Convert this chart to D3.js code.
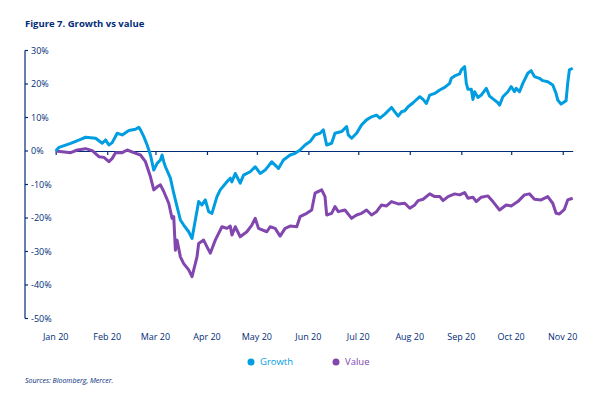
<!DOCTYPE html>
<html>
<head>
<meta charset="utf-8">
<script src="https://cdn.jsdelivr.net/npm/d3@7"></script>
<style>
  body { margin: 0; background: #fff; }
  svg { display: block; font-family: "Open Sans", "Noto Sans", sans-serif; }
</style>
</head>
<body>
<svg id="chart" width="606" height="398"></svg>
<script>
// days since 1 Jan 2020, and cumulative return (%)
const growthDays = [0, 2, 9, 15, 18, 24, 28, 30, 32, 34, 37, 40, 44, 48, 50, 51, 53, 55, 57, 59, 61, 63, 64, 65, 66, 69, 71, 73, 75, 77, 80, 82, 84, 86, 88, 90, 92, 94, 97, 99, 103, 105, 106, 108, 111, 113, 117, 120, 123, 126, 130, 134, 137, 141, 144, 147, 150, 153, 156, 159, 161, 163, 166, 168, 172, 175, 176, 178, 181, 184, 187, 190, 193, 195, 198, 202, 204, 206, 208, 210, 212, 215, 219, 221, 223, 225, 228, 231, 234, 237, 238, 240, 243, 244, 246, 247, 248, 250, 251, 252, 254, 256, 259, 261, 264, 266, 267, 269, 272, 274, 276, 277, 279, 281, 284, 286, 288, 291, 293, 296, 299, 301, 302, 304, 307, 308, 309, 311];
const growthPct = [0, 1.1, 2.3, 3.5, 4.1, 3.8, 2.3, 3.3, 1.8, 2.5, 5.3, 4.8, 6.1, 6.5, 7.1, 6.3, 4.3, 1.8, -1.2, -5.7, -3.7, -2.7, -1.2, -3.2, -4.7, -8.1, -12.6, -16.6, -20.6, -22.1, -24.1, -26.1, -20.6, -15.1, -16.1, -14.6, -18.1, -18.6, -13.6, -11.6, -9.2, -8.1, -9.2, -6.7, -9.6, -7.2, -6.2, -4.7, -6.7, -5.7, -3.2, -5.2, -2.7, -1.2, -0.7, 0.3, 1.8, 2.8, 4.8, 5.3, 6.3, 1.8, 2.3, 5.3, 5.8, 7.3, 4.8, 3.8, 5.3, 7.8, 9.3, 10.2, 10.7, 9.8, 11.0, 13.0, 11.7, 10.4, 11.7, 12.0, 13.2, 14.4, 16.2, 15.4, 14.2, 16.7, 17.2, 18.2, 19.0, 20.2, 21.7, 22.4, 23.0, 24.2, 25.2, 20.2, 18.4, 18.4, 15.4, 17.7, 16.0, 16.7, 18.7, 16.4, 15.2, 14.4, 13.7, 16.2, 17.7, 19.2, 17.7, 18.7, 17.7, 20.2, 23.2, 24.0, 22.2, 21.7, 21.0, 20.7, 19.7, 17.2, 15.2, 14.0, 15.0, 20.2, 24.2, 24.7];

const valueDays = [0, 9, 13, 18, 22, 26, 29, 32, 34, 36, 40, 43, 47, 51, 54, 57, 59, 61, 63, 65, 68, 70, 71, 72, 73, 75, 77, 80, 82, 85, 86, 89, 91, 93, 96, 100, 103, 105, 106, 108, 111, 115, 118, 120, 122, 127, 129, 132, 135, 138, 141, 145, 147, 151, 154, 156, 160, 162, 163, 166, 168, 170, 174, 178, 181, 184, 187, 190, 193, 196, 199, 202, 206, 210, 213, 216, 218, 221, 225, 228, 231, 233, 236, 240, 243, 246, 248, 251, 253, 256, 260, 263, 267, 271, 274, 278, 282, 285, 288, 292, 296, 299, 301, 303, 306, 308, 311];
const valuePct = [0, -0.5, 0.3, 0.7, 0.1, -1.7, -1.9, -3.2, -2.2, -0.5, -0.5, 0.3, -0.5, -1.2, -3.2, -7.7, -11.6, -10.7, -10.1, -12.1, -15.6, -20.1, -19.6, -29.6, -26.6, -31.6, -33.6, -35.5, -37.5, -31.6, -27.6, -26.6, -28.6, -30.5, -26.6, -22.6, -23.1, -22.4, -25.1, -22.6, -25.6, -24.1, -22.1, -20.1, -23.1, -24.1, -22.6, -23.1, -25.4, -23.1, -22.4, -22.6, -19.6, -18.6, -17.6, -12.6, -11.6, -13.6, -19.1, -18.6, -16.6, -18.1, -17.6, -20.1, -19.1, -18.6, -17.6, -19.1, -18.1, -16.1, -16.4, -15.1, -15.8, -15.6, -17.1, -16.1, -14.8, -14.4, -12.8, -13.6, -13.6, -14.8, -13.6, -12.8, -13.1, -12.4, -14.1, -13.8, -15.1, -13.8, -13.4, -15.1, -17.6, -16.1, -16.4, -15.1, -13.1, -12.8, -14.4, -14.6, -13.6, -15.6, -18.6, -18.8, -17.4, -14.6, -14.1];

const monthLabels = ["Jan 20", "Feb 20", "Mar 20", "Apr 20", "May 20", "Jun 20", "Jul 20", "Aug 20", "Sep 20", "Oct 20", "Nov 20"];
const yTicks = [30, 20, 10, 0, -10, -20, -30, -40, -50];

const navy = "#002c77";
const growthColor = "#009de0";
const valueColor = "#8246af";

const start = new Date(2020, 0, 1);
const toDate = d => d3.timeDay.offset(start, d);

const growth = growthDays.map((d, i) => ({ date: toDate(d), v: growthPct[i] }));
const value = valueDays.map((d, i) => ({ date: toDate(d), v: valuePct[i] }));

const svg = d3.select("#chart");

const x = d3.scaleTime()
    .domain([start, toDate(311)])
    .range([55.7, 572.7]);

const y = d3.scaleLinear()
    .domain([-50, 30])
    .range([318.5, 50.5]);

svg.append("text")
    .attr("x", 25)
    .attr("y", 27)
    .attr("fill", navy)
    .style("font-size", "9.5px")
    .style("font-weight", 700)
    .text("Figure 7. Growth vs value");

// y axis
const yAxis = svg.append("g").attr("transform", "translate(25,0)");
yAxis.append("line")
    .attr("y1", y(30)).attr("y2", y(-50))
    .attr("stroke", navy).attr("stroke-width", 1.2);
yAxis.selectAll(".ytick")
    .data(yTicks)
    .join("g")
    .attr("class", "ytick")
    .each(function (d) {
        const g = d3.select(this);
        g.append("line")
            .attr("x1", 0).attr("x2", 3)
            .attr("y1", y(d)).attr("y2", y(d))
            .attr("stroke", navy).attr("stroke-width", 1.2);
        g.append("text")
            .attr("x", 6)
            .attr("y", y(d))
            .attr("dy", "0.35em")
            .attr("fill", navy)
            .style("font-size", "9px")
            .text(`${d}%`);
    });

// zero line with month ticks
const months = d3.timeMonth.range(start, toDate(312));
const xAxis = svg.append("g").attr("transform", `translate(0,${y(0)})`)
    .call(d3.axisBottom(x).tickValues(months).tickSize(4).tickSizeOuter(0).tickFormat(""));
xAxis.select(".domain").attr("stroke", navy).attr("stroke-width", 1.2);
xAxis.selectAll(".tick line").attr("stroke", navy).attr("stroke-width", 1.2);

svg.selectAll(".xlabel")
    .data(months)
    .join("text")
    .attr("class", "xlabel")
    .attr("x", d => x(d))
    .attr("y", 340)
    .attr("text-anchor", "middle")
    .attr("fill", navy)
    .style("font-size", "9px")
    .text((d, i) => monthLabels[i]);

const line = d3.line()
    .x(d => x(d.date))
    .y(d => y(d.v))
    .curve(d3.curveLinear);

svg.append("path")
    .datum(value)
    .attr("d", line)
    .attr("fill", "none")
    .attr("stroke", valueColor)
    .attr("stroke-width", 3)
    .attr("stroke-linejoin", "round");

svg.append("path")
    .datum(growth)
    .attr("d", line)
    .attr("fill", "none")
    .attr("stroke", growthColor)
    .attr("stroke-width", 3)
    .attr("stroke-linejoin", "round");

// legend
const legend = [
    { label: "Growth", color: growthColor, x: 251 },
    { label: "Value", color: valueColor, x: 336 }
];
const lg = svg.selectAll(".legend")
    .data(legend)
    .join("g")
    .attr("class", "legend")
    .attr("transform", d => `translate(${d.x},362)`);
lg.append("circle").attr("r", 3.5).attr("fill", d => d.color);
lg.append("text")
    .attr("x", 9)
    .attr("dy", "0.35em")
    .attr("fill", d => d.color)
    .style("font-size", "9.5px")
    .text(d => d.label);

svg.append("text")
    .attr("x", 25)
    .attr("y", 383)
    .attr("fill", navy)
    .style("font-size", "7px")
    .style("font-style", "italic")
    .text("Sources: Bloomberg, Mercer.");
</script>
</body>
</html>
